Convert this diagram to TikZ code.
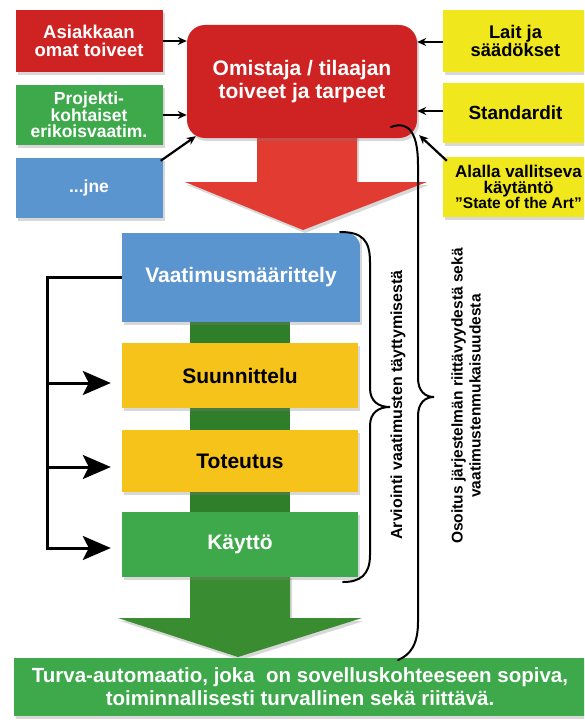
\documentclass[tikz,border=0pt]{standalone}
\usepackage{fontspec}
\setmainfont{Liberation Sans}
\usetikzlibrary{arrows.meta,shadows,calc}
\definecolor{cred}{HTML}{CF2222}
\definecolor{cgreen}{HTML}{3DA94B}
\definecolor{cblue}{HTML}{5B95CF}
\definecolor{cyel}{HTML}{F0E81C}
\definecolor{cgold}{HTML}{F5C31A}
\definecolor{cdkgreen}{HTML}{2F7F2A}
\definecolor{carrowgreen}{HTML}{3A8C30}
\definecolor{carrowred}{HTML}{E23B32}
\tikzset{
  box/.style={rectangle, inner sep=0pt, font=\bfseries, align=center,
    drop shadow={shadow xshift=2pt, shadow yshift=-3pt, opacity=.3}},
  srcarrow/.style={line width=2.2pt, -{Stealth[length=9pt,width=8pt]}},
  fbarrow/.style={line width=3pt, -{Stealth[length=28pt,width=24pt,inset=6pt]}},
  brace/.style={line width=2pt, line cap=round},
  vtext/.style={rotate=90, font=\bfseries\fontsize{16}{18}\selectfont, align=center}
}
\begin{document}
\begin{tikzpicture}[x=1pt,y=-1pt]
\useasboundingbox (0,0) rectangle (584,725);
\fill[white] (0,0) rectangle (584,725);
\begin{scope}
\clip (0,0) rectangle (584,725);
% left source boxes
\node[box, fill=cred, text=white, minimum width=147pt, minimum height=62pt,
  font=\bfseries\fontsize{18.5}{17.5}\selectfont] (ask) at (89,41) {Asiakkaan\\omat toiveet};
\node[box, fill=cgreen, text=white, minimum width=147pt, minimum height=60pt,
  font=\bfseries\fontsize{17.5}{16.5}\selectfont] (proj) at (89,115) {Projekti-\\kohtaiset\\erikoisvaatim.};
\node[box, fill=cblue, text=white, minimum width=147pt, minimum height=60pt,
  font=\bfseries\fontsize{17.5}{16}\selectfont] (jne) at (89,188) {...jne};
% right source boxes
\node[box, fill=cyel, text=black, minimum width=145pt, minimum height=62pt,
  font=\bfseries\fontsize{18.3}{16}\selectfont] (lait) at (515.5,41) {Lait ja\\säädökset};
\node[box, fill=cyel, text=black, minimum width=145pt, minimum height=60pt,
  font=\bfseries\fontsize{19}{16}\selectfont] (std) at (515.5,113) {Standardit};
\node[box, fill=cyel, minimum width=145pt, minimum height=60pt] (art) at (515.5,187) {};
\node[inner sep=0pt, align=center, text=black,
  font=\bfseries\fontsize{17}{15.5}\selectfont] (artt) at (518.5,187)
  {Alalla vallitseva\\käytäntö\\{\fontsize{15.5}{14}\selectfont ”State of the Art”}};
% big red arrow
\fill[carrowred, drop shadow={shadow xshift=2pt, shadow yshift=-3pt, opacity=.3}]
  (257,135) -- (357,135) -- (357,182) -- (427,182) -- (303,230) -- (185,182) -- (257,182) -- cycle;
% owner box
\node[box, fill=cred, text=white, minimum width=230pt, minimum height=113pt, rounded corners=18pt,
  font=\bfseries\fontsize{21}{23}\selectfont] (om) at (302,81.5) {Omistaja / tilaajan\\toiveet ja tarpeet};
% green shaft and big green arrow
\fill[cdkgreen] (190,315) rectangle (290,600);
\fill[carrowgreen, drop shadow={shadow xshift=2pt, shadow yshift=-3pt, opacity=.3}]
  (190,575) -- (290,575) -- (290,618) -- (362,618) -- (238,657) -- (118,618) -- (190,618) -- cycle;
% process boxes
\node[box, fill=cblue, text=white, minimum width=238pt, minimum height=89pt,
  font=\bfseries\fontsize{21}{22}\selectfont] (vm) at (241,277.5) {Vaatimusmäärittely};
\fill[white] (vm.north east) -- ($(vm.north east)+(-14,0)$) arc[start angle=90,end angle=0,radius=14pt] -- cycle;
\node[box, fill=cgold, text=black, minimum width=236pt, minimum height=65pt,
  font=\bfseries\fontsize{21}{22}\selectfont] (sun) at (240,375.5) {Suunnittelu};
\node[box, fill=cgold, text=black, minimum width=236pt, minimum height=62pt,
  font=\bfseries\fontsize{21}{22}\selectfont] (tot) at (240,461) {Toteutus};
\node[box, fill=cgreen, text=white, minimum width=236pt, minimum height=65pt,
  font=\bfseries\fontsize{21}{22}\selectfont] (kay) at (240,544.5) {Käyttö};
% bottom result box
\node[box, fill=cgreen, text=white, minimum width=572pt, minimum height=58pt,
  font=\bfseries\fontsize{20.5}{23}\selectfont] (res) at (300,687)
  {Turva-automaatio, joka\ \ on sovelluskohteeseen sopiva,\\toiminnallisesti turvallinen sekä riittävä.};
\end{scope}
% source arrows
\draw[srcarrow] (ask.east) -- (ask.east -| om.west);
\draw[srcarrow] (proj.east) -- (proj.east -| om.west);
\draw[srcarrow] ([xshift=-2pt,yshift=-3pt]jne.north east) -- ([xshift=9pt,yshift=2pt]om.south west);
\draw[srcarrow] ([yshift=-1pt]lait.west) -- ([yshift=-1pt]lait.west -| om.east);
\draw[srcarrow] ([yshift=2pt]std.west) -- ([yshift=2pt]std.west -| om.east);
\draw[srcarrow] ([xshift=4pt,yshift=-4pt]art.north west) -- ([xshift=2pt,yshift=3pt]om.south east);
% feedback lines
\coordinate (fbx) at (47,0);
\draw[line width=3pt] (vm.west) -- (vm.west -| fbx) -- ($(kay.west -| fbx)+(0,5)$);
\draw[fbarrow, shorten >=11pt] ($(sun.west -| fbx)+(-1.5,7.5)$) -- ($(sun.west)+(0,7.5)$);
\draw[fbarrow, shorten >=11pt] ($(tot.west -| fbx)+(-1.5,6)$) -- ($(tot.west)+(0,6)$);
\draw[fbarrow, shorten >=11pt] ($(kay.west -| fbx)+(-1.5,3.5)$) -- ($(kay.west)+(0,3.5)$);
% inner brace
\coordinate (b1t) at (340,232);
\coordinate (b1m) at (390,407);
\coordinate (b1b) at (343,582);
\draw[brace] (b1t) .. controls (362,232) and (370,240) .. (370,262) -- (370,388)
  .. controls (370,401) and (378,407) .. (b1m)
  .. controls (378,407) and (370,413) .. (370,426) -- (370,555)
  .. controls (370,575) and (360,582) .. (b1b);
% outer brace
\coordinate (b2t) at (391,127);
\coordinate (b2m) at (434,397);
\coordinate (b2b) at (398,660);
\draw[brace] (b2t) .. controls (410,120) and (418,135) .. (418,165) -- (418,378)
  .. controls (418,391) and (425,397) .. (b2m)
  .. controls (425,397) and (418,403) .. (418,416) -- (418,622)
  .. controls (418,645) and (410,655) .. (b2b);
% rotated texts
\node[vtext] (arv) at (398,405) {Arviointi vaatimusten täyttymisestä};
\node[vtext, font=\bfseries\fontsize{15.5}{18}\selectfont] (oso) at (466,396)
  {Osoitus järjestelmän riittävyydestä sekä\\vaatimustenmukaisuudesta};
\end{tikzpicture}
\end{document}
